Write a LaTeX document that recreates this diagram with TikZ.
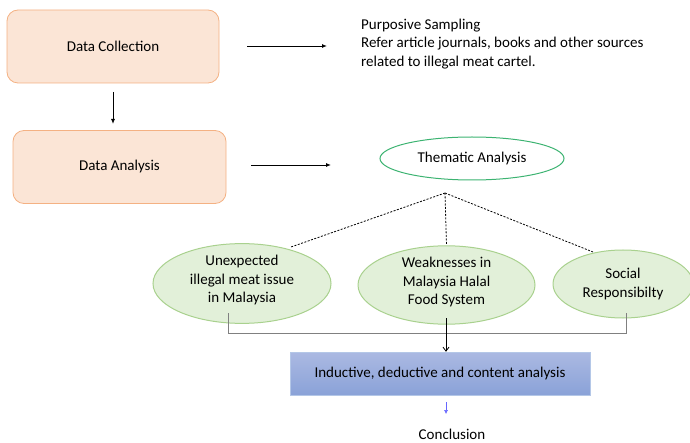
\documentclass[tikz,border=0pt]{standalone}
\usepackage{fontspec}
\setmainfont{Carlito}
\usetikzlibrary{arrows.meta,shapes.geometric}
\definecolor{peach}{HTML}{FBE5D6}
\definecolor{peachline}{HTML}{F4B183}
\definecolor{leaf}{HTML}{E2F0D9}
\definecolor{leafline}{HTML}{A9D18E}
\definecolor{mint}{HTML}{3CB371}
\definecolor{bluetop}{HTML}{ABB9E2}
\definecolor{bluebot}{HTML}{8AA2D8}
\definecolor{blueline}{HTML}{B4C7E7}
\tikzset{
    stagebox/.style={rectangle,rounded corners=11pt,draw=peachline,fill=peach,line width=0.8pt,minimum width=212pt,minimum height=73pt,font=\fontsize{15}{18.5}\selectfont},
    themebox/.style={ellipse,draw=leafline,fill=leaf,line width=1pt,inner sep=0pt,align=center,font=\fontsize{15}{18.5}\selectfont},
    plain/.style={align=left,inner sep=0pt,font=\fontsize{15}{18.5}\selectfont},
    link/.style={-{Latex[length=5pt,width=4pt]},line width=0.9pt},
    dots/.style={line width=0.8pt,dash pattern=on 2pt off 1.5pt}
}
\begin{document}
\begin{tikzpicture}[x=1pt,y=-1pt]
        \useasboundingbox (0,0) rectangle (690,443);
            \node(collect)[stagebox] at (113,46.5){Data Collection};
            \node(analysis)[stagebox,minimum width=213pt] at (119.5,167){Data Analysis};
            \node(sampling)[plain,anchor=north west] at (361,18.5){Purposive Sampling\\Refer article journals, books and other sources\\related to illegal meat cartel.};
            \node(thematic)[ellipse,draw=mint,line width=1pt,inner sep=0pt,minimum width=184pt,minimum height=43pt,font=\fontsize{15}{18.5}\selectfont] at (472,158.5){Thematic Analysis};
            \coordinate(apex) at (445,193);
            \node(issue)[themebox,minimum width=178pt,minimum height=73pt,text depth=9pt] at (242,283.5){Unexpected\\illegal meat issue\\in Malaysia};
            \node(system)[themebox,minimum width=177pt,minimum height=62pt,text depth=8pt] at (446.5,285){Weaknesses in\\Malaysia Halal\\Food System};
            \node(social)[themebox,minimum width=140pt,minimum height=68pt] at (623,284){Social\\Responsibilty};
            \node(method)[rectangle,draw=blueline,top color=bluetop,bottom color=bluebot,minimum width=300pt,minimum height=43pt,font=\fontsize{15}{18.5}\selectfont] at (440,373.5){Inductive, deductive and content analysis};
            \node(conclusion)[font=\fontsize{15}{18.5}\selectfont] at (452,434){Conclusion};
            \coordinate(c1) at (113,92);
            \coordinate(c2) at (113,124);
            \coordinate(s1) at (247,46);
            \coordinate(s2) at (327,46);
            \coordinate(a1) at (251,165);
            \coordinate(a2) at (331,165);
            \coordinate(issuetop) at (291,247);
            \coordinate(socialtop) at (593,252);
            \coordinate(left) at (228,313);
            \coordinate(right) at (626,313);
            \coordinate(mid) at (446,318);
            \coordinate(m1) at (446,402);
            \coordinate(m2) at (446,414);
            \draw[link] (c1) -- (c2);
            \draw[link] (s1) -- (s2);
            \draw[link] (a1) -- (a2);
            \draw[dots] (apex) -- (issuetop);
            \draw[dots] (apex) -- (system.north);
            \draw[dots] (apex) -- (socialtop);
            \draw[gray,line width=0.8pt] (left) -- (left |- 0,333) -- (right |- 0,333) -- (right);
            \draw[-{Straight Barb[length=4pt,width=6pt]},line width=0.8pt] (mid) -- (mid |- method.north);
            \draw[-{Latex[length=4pt,width=4pt]},blue!60,line width=0.5pt] (m1) -- (m2);
\end{tikzpicture}
\end{document}
